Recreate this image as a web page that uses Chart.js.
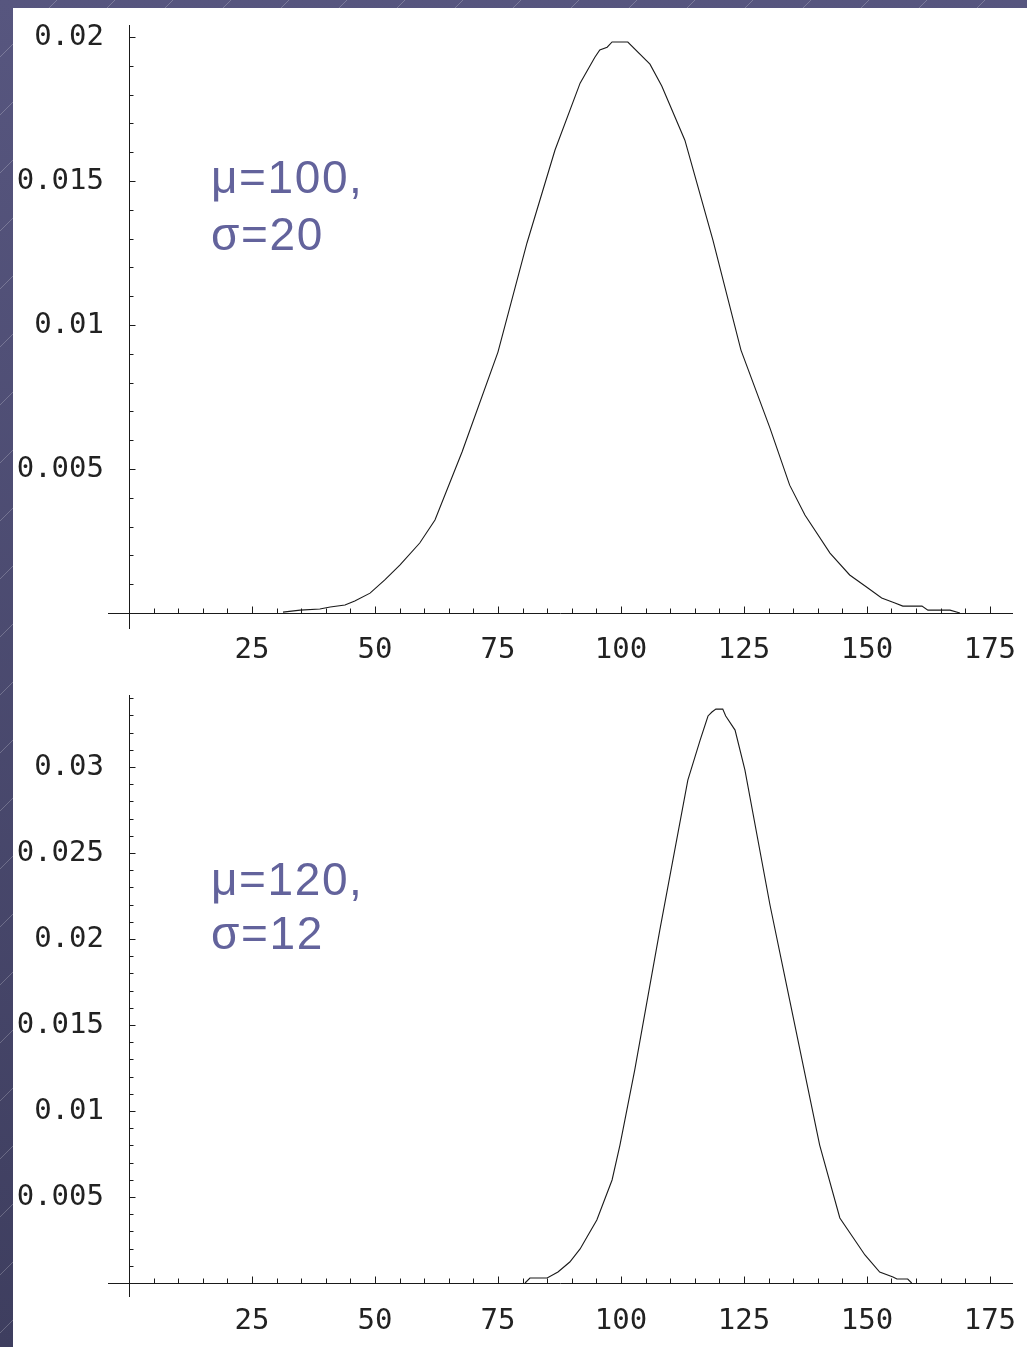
<!DOCTYPE html>
<html>
<head>
<meta charset="utf-8">
<title>Normal curves</title>
<script src="https://cdn.jsdelivr.net/npm/chart.js@4.4.0/dist/chart.umd.min.js"></script>
<style>
    html, body { margin: 0; padding: 0; }
    body { width: 1027px; height: 1347px; overflow: hidden; position: relative; background: #4b4b78; }
    #bg {
        position: absolute; left: 0; top: 0; width: 1027px; height: 1347px;
        background:
            repeating-linear-gradient(135deg, rgba(255,255,255,0) 0 40px, rgba(255,255,255,0.22) 40px 41px),
            linear-gradient(#57567f, #3e3e5f);
    }
    #panel { position: absolute; left: 13px; top: 8px; width: 1014px; height: 1339px; background: #fff; }
    canvas { position: absolute; left: 0; }
    .note {
        position: absolute; left: 211px; margin: 0;
        font-family: "Liberation Sans", Arial, sans-serif; font-size: 46px; letter-spacing: 1.6px;
        color: #63639c; white-space: pre;
    }
</style>
</head>
<body>
<div id="bg"></div>
<div id="panel"></div>
<canvas id="chart-top" width="1027" height="670" style="top:0"></canvas>
<canvas id="chart-bottom" width="1027" height="677" style="top:670px"></canvas>
<div class="note" style="top:149px; line-height:57px">μ=100,
σ=20</div>
<div class="note" style="top:852px; line-height:54px">μ=120,
σ=12</div>

<script>
// ===== Data =====

// shared x axis
const xTickValues = [25, 50, 75, 100, 125, 150, 175];
const xTickLabels = ['25', '50', '75', '100', '125', '150', '175'];

// top panel: mu = 100, sigma = 20
const topX = [31.3, 34.8, 38.8, 40.9, 43.9, 45.9, 49.0, 52.0, 55.1, 59.1, 62.2, 67.7, 75.0, 80.9,
    86.6, 91.7, 94.7, 95.7, 97.2, 98.2, 101.4, 105.9, 108.3, 113.0, 118.7, 124.4, 130.3, 134.3,
    137.4, 142.5, 146.5, 150.2, 153.0, 155.7, 157.3, 161.2, 162.4, 166.9, 168.9];
const topY = [0.00003, 0.0001, 0.00014, 0.00021, 0.00028, 0.00042, 0.00069, 0.00115, 0.00167,
    0.00243, 0.00323, 0.00559, 0.00906, 0.01285, 0.01608, 0.0184, 0.0193, 0.01955, 0.01965,
    0.01983, 0.01983, 0.01906, 0.0183, 0.01642, 0.01295, 0.00913, 0.00642, 0.00444, 0.0034,
    0.00208, 0.00132, 0.00087, 0.00052, 0.00035, 0.00024, 0.00024, 0.0001, 0.0001, 0];
const topYTicks = [0.005, 0.01, 0.015, 0.02];
const topYLabels = ['0.005', '0.01', '0.015', '0.02'];

// bottom panel: mu = 120, sigma = 12
const bottomX = [80.5, 81.5, 85.0, 87.2, 89.6, 91.7, 93.1, 95.1, 98.2, 99.8, 102.8, 107.9, 113.6,
    116.1, 117.7, 118.5, 119.3, 120.7, 121.3, 123.2, 125.2, 130.3, 134.3, 140.4, 144.5, 149.6,
    152.6, 155.3, 156.1, 158.3, 159.1];
const bottomY = [0, 0.00029, 0.00029, 0.00064, 0.00122, 0.00198, 0.00267, 0.00366, 0.00599,
    0.00802, 0.01238, 0.02052, 0.02924, 0.03157, 0.03297, 0.0332, 0.03337, 0.03337, 0.03297,
    0.03215, 0.02983, 0.02198, 0.01645, 0.00802, 0.00378, 0.00163, 0.00064, 0.00035, 0.00023,
    0.00023, 0];
const bottomYTicks = [0.005, 0.01, 0.015, 0.02, 0.025, 0.03];
const bottomYLabels = ['0.005', '0.01', '0.015', '0.02', '0.025', '0.03'];

const X_MINOR = 5;       // small tick every 5
const Y_MINOR = 0.001;   // small tick every 0.001

// ===== Mathematica-style axes crossing at the origin =====
const originAxes = {
    id: 'originAxes',
    beforeDatasetsDraw(chart) {
        const { ctx, chartArea, scales } = chart;
        const xs = scales.x, ys = scales.y;
        const x0 = Math.round(xs.getPixelForValue(0)) + 0.5;
        const y0 = Math.round(ys.getPixelForValue(0)) + 0.5;

        ctx.save();
        ctx.strokeStyle = '#1a1a1a';
        ctx.lineWidth = 1;
        ctx.beginPath();
        ctx.moveTo(chartArea.left, y0);
        ctx.lineTo(chartArea.right, y0);
        ctx.moveTo(x0, chartArea.top);
        ctx.lineTo(x0, chartArea.bottom);

        // x ticks point up
        for (let k = 1; k * X_MINOR <= xs.max; k++) {
            const px = Math.round(xs.getPixelForValue(k * X_MINOR)) + 0.5;
            const len = (k % 5 === 0) ? 7 : 5;
            ctx.moveTo(px, y0);
            ctx.lineTo(px, y0 - len);
        }

        // y ticks point right
        for (let k = 1; k * Y_MINOR <= ys.max; k++) {
            const py = Math.round(ys.getPixelForValue(k * Y_MINOR)) + 0.5;
            const len = (k % 5 === 0) ? 6 : 4;
            ctx.moveTo(x0, py);
            ctx.lineTo(x0 + len, py);
        }
        ctx.stroke();
        ctx.restore();
    }
};

function makeChart(canvasId, xs, ys, yTicks, yLabels, yMin, yMax, xAxisHeight, xPad) {
    const ctx = document.getElementById(canvasId).getContext('2d');
    const labelFont = { family: '"DejaVu Sans Mono", "Liberation Mono", monospace', size: 29 };

    return new Chart(ctx, {
        type: 'line',
        data: {
            datasets: [{
                data: xs.map((x, i) => ({ x: x, y: ys[i] })),
                borderColor: '#1a1a1a',
                borderWidth: 1.1,
                pointRadius: 0,
                tension: 0,
                fill: false
            }]
        },
        options: {
            responsive: false,
            animation: false,
            layout: { padding: { left: 0, right: 14, top: 25, bottom: 0 } },
            plugins: {
                legend: { display: false },
                tooltip: { enabled: false }
            },
            scales: {
                x: {
                    type: 'linear',
                    min: -4.27,
                    max: 179.7,
                    grid: { display: false, drawTicks: false },
                    border: { display: false },
                    afterBuildTicks: s => { s.ticks = xTickValues.map(v => ({ value: v })); },
                    afterFit: s => { s.height = xAxisHeight; },
                    ticks: {
                        autoSkip: false,
                        maxRotation: 0,
                        padding: xPad,
                        color: '#222',
                        font: labelFont,
                        callback: v => xTickLabels[xTickValues.indexOf(v)]
                    }
                },
                y: {
                    type: 'linear',
                    min: yMin,
                    max: yMax,
                    grid: { display: false, drawTicks: false },
                    border: { display: false },
                    afterBuildTicks: s => { s.ticks = yTicks.map(v => ({ value: v })); },
                    afterFit: s => { s.width = 108; },
                    ticks: {
                        autoSkip: false,
                        padding: 4,
                        color: '#222',
                        font: labelFont,
                        callback: v => yLabels[yTicks.indexOf(v)]
                    }
                }
            }
        },
        plugins: [originAxes]
    });
}

makeChart('chart-top', topX, topY, topYTicks, topYLabels, -0.000556, 0.02042, 41, 4);
makeChart('chart-bottom', bottomX, bottomY, bottomYTicks, bottomYLabels, -0.000814, 0.03419, 50, 7);
</script>
</body>
</html>
